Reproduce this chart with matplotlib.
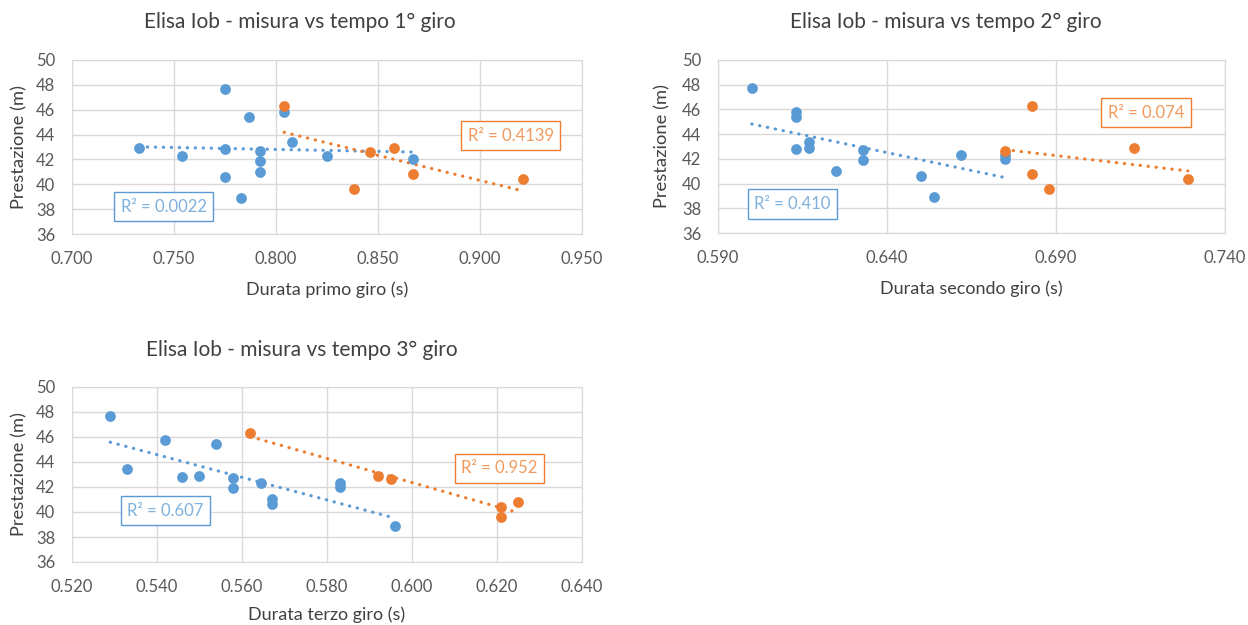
import numpy as np
import matplotlib
matplotlib.use('Agg')
import matplotlib.pyplot as plt

plt.rcParams['font.family'] = ['Lato', 'DejaVu Sans']

BLUE = '#5b9bd5'
ORANGE = '#ed7d31'
GRID = '#d9d9d9'
TXT = '#595959'
TITOLO = '#404040'

# prestazioni (m): gruppo blu e gruppo arancio
blu_misura = [47.7, 45.8, 45.4, 43.4, 42.9, 42.8, 42.7, 42.3, 42.3, 42.0, 41.9, 41.0, 40.6, 38.9]
ara_misura = [46.3, 42.9, 42.6, 40.8, 40.4, 39.6]

# durate dei giri (s), stesso ordine delle misure
blu_giro1 = [0.775, 0.804, 0.787, 0.808, 0.733, 0.775, 0.792, 0.754, 0.825, 0.867, 0.792, 0.792, 0.775, 0.783]
ara_giro1 = [0.804, 0.858, 0.846, 0.867, 0.921, 0.838]
blu_giro2 = [0.600, 0.613, 0.613, 0.617, 0.617, 0.613, 0.633, 0.662, 0.675, 0.675, 0.633, 0.625, 0.650, 0.654]
ara_giro2 = [0.683, 0.713, 0.675, 0.683, 0.729, 0.688]
blu_giro3 = [0.529, 0.542, 0.554, 0.533, 0.550, 0.546, 0.558, 0.5645, 0.583, 0.583, 0.558, 0.567, 0.567, 0.596]
ara_giro3 = [0.562, 0.592, 0.595, 0.625, 0.621, 0.621]

titoli = ['Elisa Iob - misura vs tempo 1° giro',
          'Elisa Iob - misura vs tempo 2° giro',
          'Elisa Iob - misura vs tempo 3° giro']
etichette_x = ['Durata primo giro (s)', 'Durata secondo giro (s)', 'Durata terzo giro (s)']
r2_blu = ['R² = 0.0022', 'R² = 0.410', 'R² = 0.607']
r2_ara = ['R² = 0.4139', 'R² = 0.074', 'R² = 0.952']
limiti_x = [(0.700, 0.950, 0.050), (0.590, 0.740, 0.050), (0.520, 0.640, 0.020)]
# posizione dei riquadri R² (coordinate dati)
pos_blu = [(0.745, 38.2), (0.612, 38.35), (0.542, 40.1)]
pos_ara = [(0.915, 43.9), (0.7167, 45.75), (0.6206, 43.5)]

W, H = 1248, 625
fig = plt.figure(figsize=(W / 100, H / 100), dpi=100)

# area del grafico in pixel (sinistra, alto, destra, basso) e centro del titolo
riquadri = [(72, 60, 582, 234), (718, 60, 1225, 233), (72, 387, 582, 562)]
centri_titolo = [(300, 22), (946, 22), (302, 350)]
# distanza in pixel delle etichette degli assi dal riquadro
dist_x = [47, 47, 44]
dist_y = [45, 48, 45]

dati = [(blu_giro1, ara_giro1), (blu_giro2, ara_giro2), (blu_giro3, ara_giro3)]

for i in range(3):
    x0, y0, x1, y1 = riquadri[i]
    pw, ph = x1 - x0, y1 - y0
    ax = fig.add_axes([x0 / W, 1 - y1 / H, pw / W, ph / H])
    xb, xa = dati[i]
    lo, hi, st = limiti_x[i]

    for xs, ys, col in [(xb, blu_misura, BLUE), (xa, ara_misura, ORANGE)]:
        xs = np.array(xs)
        ys = np.array(ys)
        ax.scatter(xs, ys, s=60, color=col, zorder=3, linewidths=0)
        # retta di tendenza lineare
        m, q = np.polyfit(xs, ys, 1)
        xx = np.array([xs.min(), xs.max()])
        ax.plot(xx, m * xx + q, color=col, lw=2.3, linestyle=(0, (0.1, 2.4)),
                dash_capstyle='round', zorder=2)

    ax.set_xlim(lo, hi)
    ax.set_ylim(36, 50)
    tk = np.arange(lo, hi + st / 2, st)
    ax.set_xticks(tk)
    ax.set_xticklabels(['%.3f' % v for v in tk])
    ax.set_yticks(range(36, 51, 2))
    ax.grid(True, color=GRID, lw=1)
    ax.set_axisbelow(True)
    for s in ax.spines.values():
        s.set_color(GRID)
    ax.tick_params(length=0, colors=TXT, labelsize=12)
    ax.tick_params(axis='x', pad=12)
    ax.tick_params(axis='y', pad=12)
    ax.set_xlabel(etichette_x[i], fontsize=13, color=TITOLO)
    ax.set_ylabel('Prestazione (m)', fontsize=13.2, color=TITOLO)
    ax.xaxis.set_label_coords(0.5, -(dist_x[i] / ph))
    ax.yaxis.set_label_coords(-(dist_y[i] / pw), 0.5)

    tx, ty = centri_titolo[i]
    fig.text(tx / W, 1 - ty / H, titoli[i], fontsize=15, color=TITOLO,
             ha='center', va='center')

    bx, by = pos_blu[i]
    ax.text(bx, by, r2_blu[i], color='#7fb0de', fontsize=12, ha='center', va='center',
            bbox=dict(boxstyle='square,pad=0.4', fc='white', ec=BLUE, lw=1), zorder=4)
    ox, oy = pos_ara[i]
    ax.text(ox, oy, r2_ara[i], color='#f09a5e', fontsize=12, ha='center', va='center',
            bbox=dict(boxstyle='square,pad=0.4', fc='white', ec=ORANGE, lw=1), zorder=4)

fig.savefig('out.png', dpi=100, facecolor='white')
